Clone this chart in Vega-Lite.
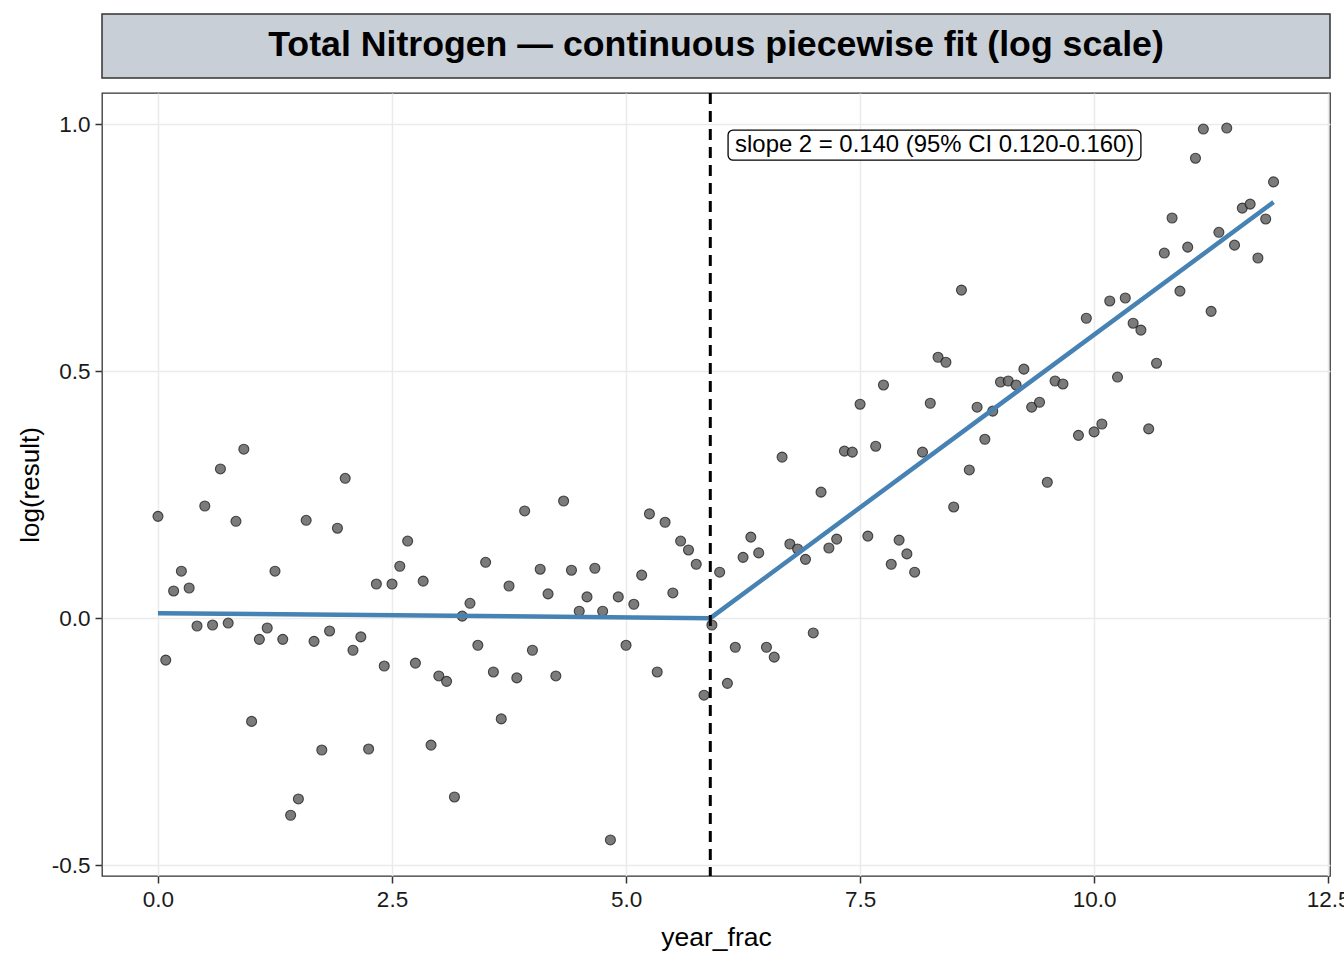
{
  "$schema": "https://vega.github.io/schema/vega-lite/v6.json",
  "autosize": {"type": "pad"},
  "padding": {"left": 16, "top": 13, "right": 0, "bottom": 8},
  "background": "white",
  "spacing": 15,
  "bounds": "flush",
  "config": {
    "font": "Liberation Sans",
    "view": {"stroke": "#333333", "strokeWidth": 1.3}
  },
  "datasets": {
    "points": [
      {"year_frac": 0.000, "log_result": 0.206},
      {"year_frac": 0.083, "log_result": -0.085},
      {"year_frac": 0.167, "log_result": 0.055},
      {"year_frac": 0.250, "log_result": 0.095},
      {"year_frac": 0.333, "log_result": 0.061},
      {"year_frac": 0.417, "log_result": -0.016},
      {"year_frac": 0.500, "log_result": 0.227},
      {"year_frac": 0.583, "log_result": -0.014},
      {"year_frac": 0.667, "log_result": 0.302},
      {"year_frac": 0.750, "log_result": -0.010},
      {"year_frac": 0.833, "log_result": 0.196},
      {"year_frac": 0.917, "log_result": 0.342},
      {"year_frac": 1.000, "log_result": -0.209},
      {"year_frac": 1.083, "log_result": -0.043},
      {"year_frac": 1.167, "log_result": -0.020},
      {"year_frac": 1.250, "log_result": 0.095},
      {"year_frac": 1.333, "log_result": -0.043},
      {"year_frac": 1.417, "log_result": -0.399},
      {"year_frac": 1.500, "log_result": -0.366},
      {"year_frac": 1.583, "log_result": 0.198},
      {"year_frac": 1.667, "log_result": -0.047},
      {"year_frac": 1.750, "log_result": -0.267},
      {"year_frac": 1.833, "log_result": -0.026},
      {"year_frac": 1.917, "log_result": 0.182},
      {"year_frac": 2.000, "log_result": 0.283},
      {"year_frac": 2.083, "log_result": -0.065},
      {"year_frac": 2.167, "log_result": -0.038},
      {"year_frac": 2.250, "log_result": -0.265},
      {"year_frac": 2.333, "log_result": 0.069},
      {"year_frac": 2.417, "log_result": -0.097},
      {"year_frac": 2.500, "log_result": 0.069},
      {"year_frac": 2.583, "log_result": 0.105},
      {"year_frac": 2.667, "log_result": 0.156},
      {"year_frac": 2.750, "log_result": -0.091},
      {"year_frac": 2.833, "log_result": 0.075},
      {"year_frac": 2.917, "log_result": -0.257},
      {"year_frac": 3.000, "log_result": -0.117},
      {"year_frac": 3.083, "log_result": -0.128},
      {"year_frac": 3.167, "log_result": -0.362},
      {"year_frac": 3.250, "log_result": 0.004},
      {"year_frac": 3.333, "log_result": 0.030},
      {"year_frac": 3.417, "log_result": -0.055},
      {"year_frac": 3.500, "log_result": 0.113},
      {"year_frac": 3.583, "log_result": -0.109},
      {"year_frac": 3.667, "log_result": -0.204},
      {"year_frac": 3.750, "log_result": 0.065},
      {"year_frac": 3.833, "log_result": -0.121},
      {"year_frac": 3.917, "log_result": 0.217},
      {"year_frac": 4.000, "log_result": -0.065},
      {"year_frac": 4.083, "log_result": 0.099},
      {"year_frac": 4.167, "log_result": 0.049},
      {"year_frac": 4.250, "log_result": -0.117},
      {"year_frac": 4.333, "log_result": 0.237},
      {"year_frac": 4.417, "log_result": 0.097},
      {"year_frac": 4.500, "log_result": 0.014},
      {"year_frac": 4.583, "log_result": 0.043},
      {"year_frac": 4.667, "log_result": 0.101},
      {"year_frac": 4.750, "log_result": 0.014},
      {"year_frac": 4.833, "log_result": -0.449},
      {"year_frac": 4.917, "log_result": 0.043},
      {"year_frac": 5.000, "log_result": -0.055},
      {"year_frac": 5.083, "log_result": 0.028},
      {"year_frac": 5.167, "log_result": 0.087},
      {"year_frac": 5.250, "log_result": 0.211},
      {"year_frac": 5.333, "log_result": -0.109},
      {"year_frac": 5.417, "log_result": 0.194},
      {"year_frac": 5.500, "log_result": 0.051},
      {"year_frac": 5.583, "log_result": 0.156},
      {"year_frac": 5.667, "log_result": 0.138},
      {"year_frac": 5.750, "log_result": 0.109},
      {"year_frac": 5.833, "log_result": -0.156},
      {"year_frac": 5.917, "log_result": -0.014},
      {"year_frac": 6.000, "log_result": 0.093},
      {"year_frac": 6.083, "log_result": -0.132},
      {"year_frac": 6.167, "log_result": -0.059},
      {"year_frac": 6.250, "log_result": 0.123},
      {"year_frac": 6.333, "log_result": 0.164},
      {"year_frac": 6.417, "log_result": 0.132},
      {"year_frac": 6.500, "log_result": -0.059},
      {"year_frac": 6.583, "log_result": -0.079},
      {"year_frac": 6.667, "log_result": 0.326},
      {"year_frac": 6.750, "log_result": 0.150},
      {"year_frac": 6.833, "log_result": 0.140},
      {"year_frac": 6.917, "log_result": 0.119},
      {"year_frac": 7.000, "log_result": -0.030},
      {"year_frac": 7.083, "log_result": 0.255},
      {"year_frac": 7.167, "log_result": 0.142},
      {"year_frac": 7.250, "log_result": 0.160},
      {"year_frac": 7.333, "log_result": 0.338},
      {"year_frac": 7.417, "log_result": 0.336},
      {"year_frac": 7.500, "log_result": 0.433},
      {"year_frac": 7.583, "log_result": 0.166},
      {"year_frac": 7.667, "log_result": 0.348},
      {"year_frac": 7.750, "log_result": 0.472},
      {"year_frac": 7.833, "log_result": 0.109},
      {"year_frac": 7.917, "log_result": 0.158},
      {"year_frac": 8.000, "log_result": 0.130},
      {"year_frac": 8.083, "log_result": 0.093},
      {"year_frac": 8.167, "log_result": 0.336},
      {"year_frac": 8.250, "log_result": 0.435},
      {"year_frac": 8.333, "log_result": 0.528},
      {"year_frac": 8.417, "log_result": 0.518},
      {"year_frac": 8.500, "log_result": 0.225},
      {"year_frac": 8.583, "log_result": 0.664},
      {"year_frac": 8.667, "log_result": 0.300},
      {"year_frac": 8.750, "log_result": 0.427},
      {"year_frac": 8.833, "log_result": 0.362},
      {"year_frac": 8.917, "log_result": 0.419},
      {"year_frac": 9.000, "log_result": 0.478},
      {"year_frac": 9.083, "log_result": 0.480},
      {"year_frac": 9.167, "log_result": 0.472},
      {"year_frac": 9.250, "log_result": 0.504},
      {"year_frac": 9.333, "log_result": 0.427},
      {"year_frac": 9.417, "log_result": 0.437},
      {"year_frac": 9.500, "log_result": 0.275},
      {"year_frac": 9.583, "log_result": 0.480},
      {"year_frac": 9.667, "log_result": 0.474},
      {"year_frac": 9.833, "log_result": 0.370},
      {"year_frac": 9.917, "log_result": 0.607},
      {"year_frac": 10.000, "log_result": 0.377},
      {"year_frac": 10.083, "log_result": 0.393},
      {"year_frac": 10.167, "log_result": 0.642},
      {"year_frac": 10.250, "log_result": 0.488},
      {"year_frac": 10.333, "log_result": 0.648},
      {"year_frac": 10.417, "log_result": 0.597},
      {"year_frac": 10.500, "log_result": 0.583},
      {"year_frac": 10.583, "log_result": 0.383},
      {"year_frac": 10.667, "log_result": 0.516},
      {"year_frac": 10.750, "log_result": 0.739},
      {"year_frac": 10.833, "log_result": 0.810},
      {"year_frac": 10.917, "log_result": 0.662},
      {"year_frac": 11.000, "log_result": 0.751},
      {"year_frac": 11.083, "log_result": 0.931},
      {"year_frac": 11.167, "log_result": 0.990},
      {"year_frac": 11.250, "log_result": 0.621},
      {"year_frac": 11.333, "log_result": 0.781},
      {"year_frac": 11.417, "log_result": 0.992},
      {"year_frac": 11.500, "log_result": 0.755},
      {"year_frac": 11.583, "log_result": 0.830},
      {"year_frac": 11.667, "log_result": 0.838},
      {"year_frac": 11.750, "log_result": 0.729},
      {"year_frac": 11.833, "log_result": 0.808},
      {"year_frac": 11.917, "log_result": 0.883}
    ],
    "fit": [
      {"year_frac": 0.0, "log_result": 0.010},
      {"year_frac": 5.9, "log_result": 0.000},
      {"year_frac": 11.917, "log_result": 0.842}
    ],
    "breakpoint": [{"year_frac": 5.9}],
    "label": [
      {"x0": 6.09, "x1": 10.5, "y0": 0.927, "y1": 0.988, "xt": 6.165, "yt": 0.957,
       "text": "slope 2 = 0.140 (95% CI 0.120-0.160)"}
    ]
  },
  "vconcat": [
    {
      "width": 1228,
      "height": 64,
      "view": {"fill": "#c8cfd7", "stroke": "#333333", "strokeWidth": 1.5},
      "data": {"values": [{"title": "Total Nitrogen — continuous piecewise fit (log scale)"}]},
      "mark": {"type": "text", "fontSize": 35.7, "fontWeight": "bold", "color": "black", "align": "center", "baseline": "middle", "dy": -1},
      "encoding": {"text": {"field": "title"}}
    },
    {
      "width": 1228,
      "height": 783,
      "layer": [
        {
          "data": {"name": "points"},
          "mark": {"type": "circle", "size": 100, "fill": "#646464", "fillOpacity": 0.85, "stroke": "#1a1a1a", "strokeWidth": 1.1, "strokeOpacity": 0.75},
          "encoding": {
            "x": {
              "field": "year_frac", "type": "quantitative",
              "scale": {"domain": [-0.598, 12.52], "nice": false, "zero": false},
              "axis": {
                "title": "year_frac", "values": [0, 2.5, 5, 7.5, 10, 12.5], "format": ".1f",
                "domain": false, "grid": true, "gridColor": "#ebebeb", "gridWidth": 1.5,
                "tickColor": "#333333", "tickWidth": 1.5, "tickSize": 7,
                "labelFontSize": 22.5, "labelColor": "#1a1a1a", "labelPadding": 5,
                "titleFontSize": 26.5, "titleFontWeight": "normal", "titleColor": "black", "titlePadding": 14
              }
            },
            "y": {
              "field": "log_result", "type": "quantitative",
              "scale": {"domain": [-0.522, 1.063], "nice": false, "zero": false},
              "axis": {
                "title": "log(result)", "values": [-0.5, 0, 0.5, 1],
                "labelExpr": "replace(format(datum.value, '.1f'), '\u2212', '-')",
                "domain": false, "grid": true, "gridColor": "#ebebeb", "gridWidth": 1.5,
                "tickColor": "#333333", "tickWidth": 1.5, "tickSize": 7,
                "labelFontSize": 22.5, "labelColor": "#1a1a1a", "labelPadding": 5,
                "titleFontSize": 26, "titleFontWeight": "normal", "titleColor": "black", "titlePadding": 8
              }
            }
          }
        },
        {
          "data": {"name": "fit"},
          "mark": {"type": "line", "color": "#4682b4", "strokeWidth": 4.5},
          "encoding": {
            "x": {"field": "year_frac", "type": "quantitative"},
            "y": {"field": "log_result", "type": "quantitative"}
          }
        },
        {
          "data": {"name": "breakpoint"},
          "mark": {"type": "rule", "color": "black", "strokeWidth": 3, "strokeDash": [11, 7]},
          "encoding": {
            "x": {"field": "year_frac", "type": "quantitative"}
          }
        },
        {
          "data": {"name": "label"},
          "mark": {"type": "rect", "fill": "white", "stroke": "black", "strokeWidth": 1.3, "cornerRadius": 5},
          "encoding": {
            "x": {"field": "x0", "type": "quantitative"},
            "x2": {"field": "x1"},
            "y": {"field": "y0", "type": "quantitative"},
            "y2": {"field": "y1"}
          }
        },
        {
          "data": {"name": "label"},
          "mark": {"type": "text", "fontSize": 23.9, "color": "black", "align": "left", "baseline": "middle"},
          "encoding": {
            "x": {"field": "xt", "type": "quantitative"},
            "y": {"field": "yt", "type": "quantitative"},
            "text": {"field": "text"}
          }
        }
      ]
    }
  ]
}
